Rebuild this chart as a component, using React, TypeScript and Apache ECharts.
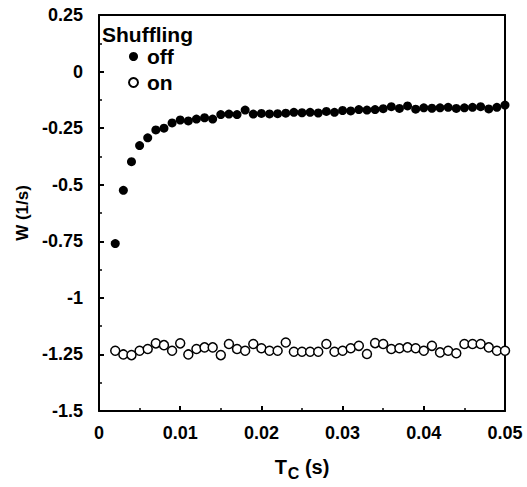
import React, { useEffect, useRef } from "react";
import * as echarts from "echarts";

const tc = [
  0.002, 0.003, 0.004, 0.005, 0.006, 0.007, 0.008, 0.009, 0.01, 0.011,
  0.012, 0.013, 0.014, 0.015, 0.016, 0.017, 0.018, 0.019, 0.02, 0.021,
  0.022, 0.023, 0.024, 0.025, 0.026, 0.027, 0.028, 0.029, 0.03, 0.031,
  0.032, 0.033, 0.034, 0.035, 0.036, 0.037, 0.038, 0.039, 0.04, 0.041,
  0.042, 0.043, 0.044, 0.045, 0.046, 0.047, 0.048, 0.049, 0.05,
];

const offValues = [
  -0.76, -0.525, -0.398, -0.327, -0.293, -0.258, -0.25, -0.227, -0.214, -0.218,
  -0.21, -0.204, -0.21, -0.19, -0.188, -0.19, -0.17, -0.188, -0.185, -0.187,
  -0.186, -0.184, -0.18, -0.182, -0.18, -0.183, -0.176, -0.18, -0.172, -0.174,
  -0.168, -0.17, -0.168, -0.164, -0.155, -0.163, -0.152, -0.166, -0.16, -0.162,
  -0.16, -0.158, -0.163, -0.16, -0.158, -0.155, -0.165, -0.158, -0.148,
];

const onValues = [
  -1.234, -1.25, -1.253, -1.234, -1.226, -1.201, -1.209, -1.234, -1.201, -1.25,
  -1.226, -1.219, -1.219, -1.253, -1.204, -1.226, -1.234, -1.204, -1.223, -1.234,
  -1.234, -1.197, -1.238, -1.238, -1.238, -1.238, -1.204, -1.238, -1.234, -1.223,
  -1.212, -1.248, -1.2, -1.204, -1.226, -1.223, -1.219, -1.223, -1.234, -1.212,
  -1.241, -1.234, -1.245, -1.204, -1.204, -1.204, -1.219, -1.234, -1.234,
];

const FONT = "'Liberation Sans', Arial, sans-serif";

export default function App() {
  const ref = useRef<HTMLDivElement>(null);
  useEffect(() => {
    if (!ref.current) return;
    const chart = echarts.init(ref.current, undefined, { renderer: "svg" });
    const offData = tc.map((x, i) => [x, offValues[i]]);
    const onData = tc.map((x, i) => [x, onValues[i]]);
    const labelStyle = {
      fontFamily: FONT,
      fontWeight: "bold",
      fontSize: 18,
      color: "#000",
      formatter: (v: number) => String(Number(v.toFixed(3))),
    };
    chart.setOption({
      animation: false,
      backgroundColor: "#fff",
      textStyle: { fontFamily: FONT },
      title: {
        text: "Shuffling",
        left: 102,
        top: 24,
        padding: 0,
        textStyle: { fontFamily: FONT, fontWeight: "bold", fontSize: 21, color: "#000" },
      },
      legend: {
        orient: "vertical",
        left: 128,
        top: 46,
        padding: 0,
        itemGap: 5,
        itemWidth: 9,
        itemHeight: 9,
        icon: "circle",
        data: ["off", "on"],
        textStyle: { fontFamily: FONT, fontWeight: "bold", fontSize: 21, color: "#000", padding: [0, 0, 0, 4] },
      },
      grid: {
        left: 99,
        right: 22,
        top: 15,
        bottom: 76,
      },
      xAxis: [
        {
          type: "value",
          min: 0,
          max: 0.05,
          interval: 0.01,
          name: "{t|T}{s|C}{t| (s)}",
          nameLocation: "middle",
          nameGap: 42,
          nameTextStyle: {
            rich: {
              t: { fontFamily: FONT, fontWeight: "bold", fontSize: 20, color: "#000" },
              s: { fontFamily: FONT, fontWeight: "bold", fontSize: 16, color: "#000", padding: [12, 0, 0, 1] },
            },
          },
          axisLine: { show: true, onZero: false, lineStyle: { color: "#000", width: 2 } },
          axisTick: { show: true, inside: true, length: 5, lineStyle: { color: "#000", width: 2 } },
          minorTick: { show: true, splitNumber: 2, length: 3, lineStyle: { color: "#000", width: 1.5 } },
          splitLine: { show: false },
          axisLabel: { margin: 13, ...labelStyle },
        },
        {
          type: "value",
          position: "top",
          min: 0,
          max: 0.05,
          interval: 0.01,
          axisLine: { show: true, onZero: false, lineStyle: { color: "#000", width: 2 } },
          axisTick: { show: false },
          axisLabel: { show: false },
          splitLine: { show: false },
        },
      ],
      yAxis: [
        {
          type: "value",
          min: -1.5,
          max: 0.25,
          interval: 0.25,
          name: "W (1/s)",
          nameLocation: "middle",
          nameRotate: 90,
          nameGap: 68,
          nameTextStyle: { fontFamily: FONT, fontWeight: "bold", fontSize: 17, color: "#000" },
          axisLine: { show: true, onZero: false, lineStyle: { color: "#000", width: 2 } },
          axisTick: { show: true, inside: true, length: 5, lineStyle: { color: "#000", width: 2 } },
          minorTick: { show: true, splitNumber: 2, length: 3, lineStyle: { color: "#000", width: 1.5 } },
          splitLine: { show: false },
          axisLabel: { margin: 16, ...labelStyle },
        },
        {
          type: "value",
          position: "right",
          min: -1.5,
          max: 0.25,
          interval: 0.25,
          axisLine: { show: true, onZero: false, lineStyle: { color: "#000", width: 2 } },
          axisTick: { show: false },
          axisLabel: { show: false },
          splitLine: { show: false },
        },
      ],
      series: [
        {
          name: "off",
          type: "scatter",
          data: offData,
          symbol: "circle",
          symbolSize: 9,
          itemStyle: { color: "#000", borderColor: "#000", borderWidth: 0, opacity: 1 },
        },
        {
          name: "on",
          type: "scatter",
          data: onData,
          symbol: "circle",
          symbolSize: 9,
          itemStyle: { color: "#fff", borderColor: "#000", borderWidth: 1.5, opacity: 1 },
        },
      ],
    });
    return () => chart.dispose();
  }, []);
  return <div ref={ref} style={{ width: 527, height: 487, position: "absolute", left: 0, top: 0 }} />;
}
